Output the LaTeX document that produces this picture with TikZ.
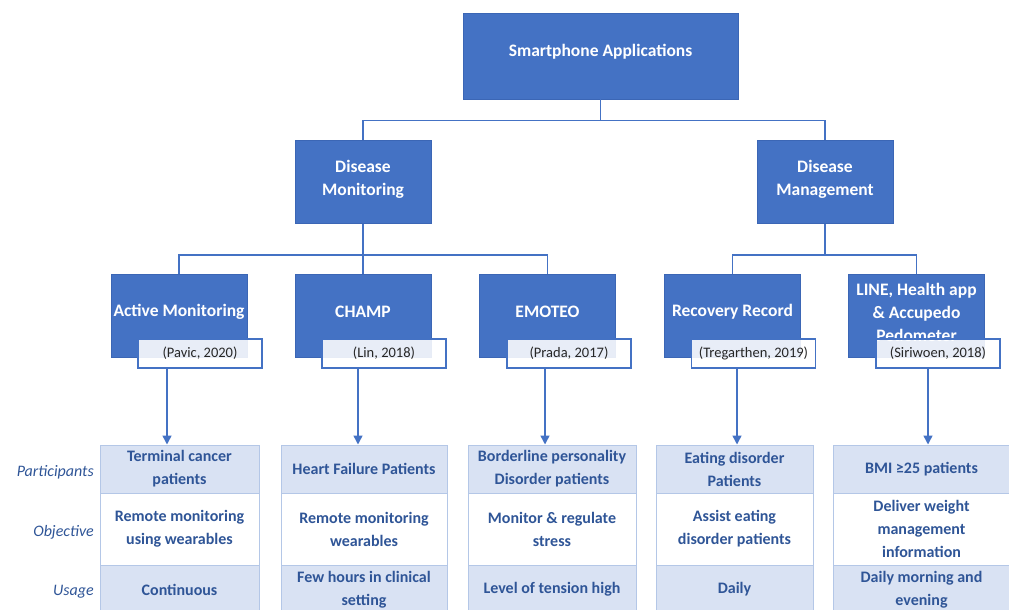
\documentclass[tikz,border=0pt]{standalone}
\usepackage{fontspec}
\setmainfont{Carlito}
\usetikzlibrary{arrows.meta}
\definecolor{boxblue}{HTML}{4472C4}
\definecolor{boxedge}{HTML}{3B66B5}
\definecolor{lineblue}{HTML}{4472C4}
\definecolor{cellfill}{HTML}{D9E2F3}
\definecolor{celledge}{HTML}{B4C7E7}
\definecolor{txtblue}{HTML}{2F5597}
\definecolor{citetext}{HTML}{262626}
\begin{document}
\begin{tikzpicture}[x=1pt,y=-1pt,
  box/.style={draw=boxedge, fill=boxblue, line width=0.6pt, minimum width=136pt, minimum height=83pt, inner sep=0pt},
  btext/.style={text=white, font=\fontsize{17.5}{23}\selectfont\bfseries, align=center, inner sep=0pt},
  cite/.style={draw=boxblue, line width=1.4pt, fill=white, fill opacity=0.88, text opacity=1, minimum width=124pt, minimum height=29pt, inner sep=0pt, text=citetext, font=\fontsize{14.5}{17}\selectfont},
  cell/.style={draw=celledge, line width=1pt, fill=cellfill, inner sep=0pt, text=txtblue, font=\fontsize{16}{23}\selectfont\bfseries, align=center},
  wcell/.style={cell, fill=white},
  rowlab/.style={anchor=east, text=txtblue, font=\fontsize{16}{20}\selectfont\itshape, inner sep=0pt},
  conn/.style={draw=lineblue, line width=1.5pt},
  arr/.style={conn, -{Triangle[length=9pt,width=9pt]}}
]
\useasboundingbox (0,0) rectangle (1009,610);
\clip (0,0) rectangle (1009,610);

% top
\node[box, minimum width=275pt, minimum height=86pt] (top) at (600.5,56) {};
\node[btext] (topT) at (600.5,52) {Smartphone Applications};

% level 2
\node[box] (dmon) at (363,182) {};
\node[btext] (dmonT) at (363,179) {Disease\\Monitoring};
\node[box] (dman) at (825,182) {};
\node[btext] (dmanT) at (825,179) {Disease\\Management};

% connectors level1 -> level2
\draw[conn] (top.south) -- ++(0,21) -| (dmon.north);
\draw[conn] (top.south) -- ++(0,21) -| (dman.north);

% level 3 boxes
\node[box] (am) at (179,315.5) {};
\node[btext] (amT) at (179,312) {Active Monitoring};
\node[box] (ch) at (363,315.5) {};
\node[btext] (chT) at (363,312) {CHAMP};
\node[box] (em) at (547.5,315.5) {};
\node[btext] (emT) at (547.5,312) {EMOTEO};
\node[box] (rr) at (732.5,315.5) {};
\node[btext] (rrT) at (732.5,312) {Recovery Record};
\node[box] (li) at (916.5,315.5) {};
\node[btext] (liT) at (916.5,312) {LINE, Health app\\\& Accupedo\\Pedometer};

% connectors level2 -> level3
\draw[conn] (dmon.south) -- ++(0,31) -| (am.north);
\draw[conn] (dmon.south) -- ++(0,31) -| (ch.north);
\draw[conn] (dmon.south) -- ++(0,31) -| (em.north);
\draw[conn] (dman.south) -- ++(0,31) -| (rr.north);
\draw[conn] (dman.south) -- ++(0,31) -| (li.north);

% citations
\node[cite] (c1) at (200,353.5) {(Pavic, 2020)};
\node[cite] (c2) at (384,353.5) {(Lin, 2018)};
\node[cite] (c3) at (569,353.5) {(Prada, 2017)};
\node[cite] (c4) at (753.5,353.5) {(Tregarthen, 2019)};
\node[cite] (c5) at (938,353.5) {(Siriwoen, 2018)};

% table
\node[cell, minimum width=159pt, minimum height=48pt] (p1) at (179.5,469) {Terminal cancer\\patients};
\node[wcell, minimum width=159pt, minimum height=72pt] (o1) at (179.5,529) {Remote monitoring\\using wearables};
\node[cell, minimum width=159pt, minimum height=49pt] (u1) at (179.5,589.5) {Continuous};

\node[cell, minimum width=166pt, minimum height=48pt] (p2) at (364,469) {Heart Failure Patients};
\node[wcell, minimum width=166pt, minimum height=72pt] (o2) at (364,529) {Remote monitoring\\wearables};
\node[cell, minimum width=166pt, minimum height=49pt] (u2) at (364,589.5) {Few hours in clinical\\setting};

\node[cell, minimum width=168pt, minimum height=48pt] (p3) at (552,469) {Borderline personality\\Disorder patients};
\node[wcell, minimum width=168pt, minimum height=72pt] (o3) at (552,529) {Monitor \& regulate\\stress};
\node[cell, minimum width=168pt, minimum height=49pt] (u3) at (552,589.5) {Level of tension high};

\node[cell, minimum width=157pt, minimum height=48pt] (p4) at (734.5,469) {Eating disorder\\Patients};
\node[wcell, minimum width=157pt, minimum height=72pt] (o4) at (734.5,529) {Assist eating\\disorder patients};
\node[cell, minimum width=157pt, minimum height=49pt] (u4) at (734.5,589.5) {Daily};

\node[cell, minimum width=177pt, minimum height=48pt] (p5) at (921.5,469) {BMI ≥25 patients};
\node[wcell, minimum width=177pt, minimum height=72pt] (o5) at (921.5,529) {Deliver weight\\management\\information};
\node[cell, minimum width=177pt, minimum height=49pt] (u5) at (921.5,589.5) {Daily morning and\\evening};

% row labels
\node[rowlab] (lp) at (94,472) {Participants};
\node[rowlab] (lo) at (94,532) {Objective};
\node[rowlab] (lu) at (94,592) {Usage};

% arrows
\coordinate (a1) at (167,0);
\coordinate (a2) at (358,0);
\coordinate (a3) at (545,0);
\coordinate (a4) at (737,0);
\coordinate (a5) at (928,0);
\draw[arr] (c1.south -| a1) -- (p1.north -| a1);
\draw[arr] (c2.south -| a2) -- (p2.north -| a2);
\draw[arr] (c3.south -| a3) -- (p3.north -| a3);
\draw[arr] (c4.south -| a4) -- (p4.north -| a4);
\draw[arr] (c5.south -| a5) -- (p5.north -| a5);
\end{tikzpicture}
\end{document}
